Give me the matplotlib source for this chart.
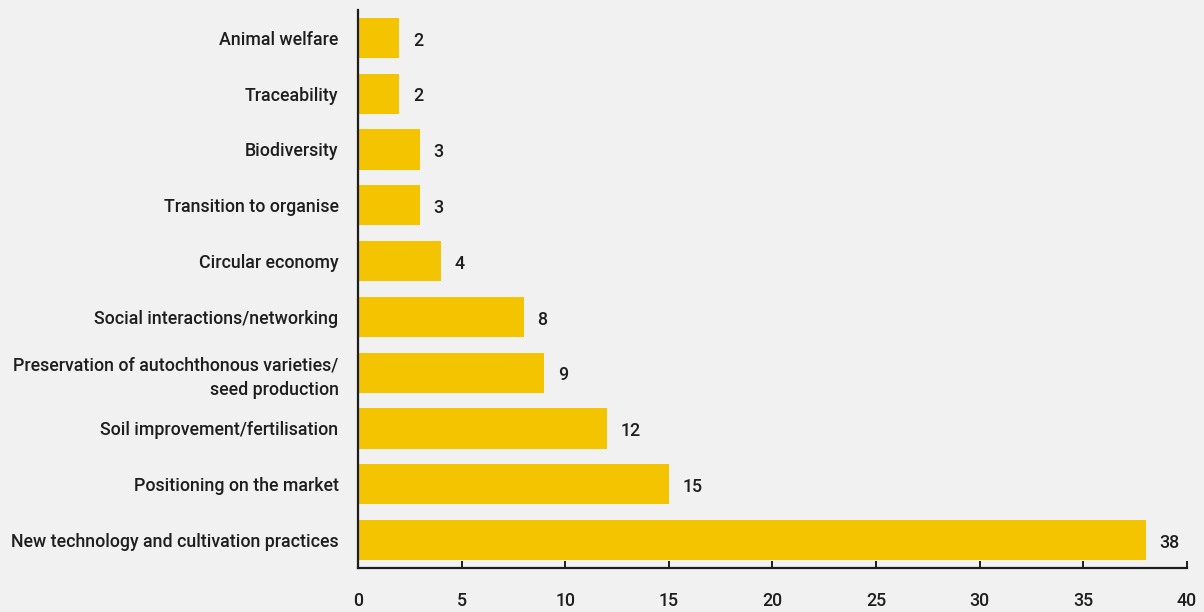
import matplotlib.pyplot as plt

# topics and number of mentions (top to bottom)
topics = [
    "Animal welfare",
    "Traceability",
    "Biodiversity",
    "Transition to organise",
    "Circular economy",
    "Social interactions/networking",
    "Preservation of autochthonous varieties/\nseed production",
    "Soil improvement/fertilisation",
    "Positioning on the market",
    "New technology and cultivation practices",
]
counts = [2, 2, 3, 3, 4, 8, 9, 12, 15, 38]
x_ticks = [0, 5, 10, 15, 20, 25, 30, 35, 40]

bar_color = "#F5C400"
ink = "#1E1E1E"
paper = "#F1F1F1"

plt.rcParams["font.family"] = ["Roboto", "DejaVu Sans"]
fs = 12.8

fig = plt.figure(figsize=(12.04, 6.12), dpi=100, facecolor=paper)
ax = fig.add_axes([0.2973, 0.0719, 0.9859 - 0.2973, 0.9837 - 0.0719])
ax.set_facecolor(paper)

ypos = list(range(len(topics)))
ax.barh(ypos, counts, height=0.72, color=bar_color, zorder=2)

for y, v in zip(ypos, counts):
    ax.text(v + 0.65, y + 0.05, str(v), va="center", ha="left",
            fontsize=fs, fontweight="medium", color=ink)

ax.set_yticks(ypos)
ax.set_yticklabels(topics, fontsize=fs, fontweight="medium", color=ink, linespacing=1.45)
ax.set_ylim(len(topics) - 0.5, -0.5)
ax.set_xlim(0, 40)
ax.set_xticks(x_ticks)
ax.set_xticklabels([str(t) for t in x_ticks], fontsize=fs, fontweight="medium", color=ink)

for side in ["top", "right"]:
    ax.spines[side].set_visible(False)
for side in ["left", "bottom"]:
    ax.spines[side].set_color(ink)
    ax.spines[side].set_linewidth(1.6)

ax.tick_params(axis="x", direction="in", length=5, width=1.4, color=ink, pad=17)
ax.tick_params(axis="y", length=0, pad=14)

fig.savefig("out.png", dpi=100, facecolor=paper)
